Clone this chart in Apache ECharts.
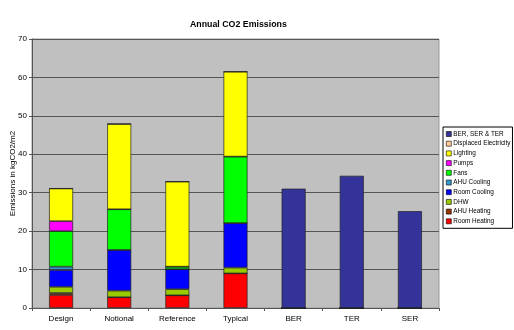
<!DOCTYPE html>
<html><head><meta charset="utf-8">
<script src="https://cdn.jsdelivr.net/npm/echarts@6/dist/echarts.min.js"></script>
<style>html,body{margin:0;padding:0;background:#fff}#c{width:514px;height:330px}</style>
</head><body><div id="c"></div>
<script>
const categories = ['Design','Notional','Reference','Typical','BER','TER','SER'];
const roomHeating   = [3.4, 2.8, 3.3, 9.0, 0, 0, 0];
const ahuHeating    = [0.5, 0, 0, 0, 0, 0, 0];
const dhw           = [1.6, 1.7, 1.6, 1.5, 0, 0, 0];
const roomCooling   = [4.4, 10.6, 5.2, 11.6, 0, 0, 0];
const ahuCooling    = [0.85, 0, 0, 0, 0, 0, 0];
const fans          = [9.25, 10.6, 0.65, 17.3, 0, 0, 0];
const pumps         = [2.6, 0, 0, 0, 0, 0, 0];
const lighting      = [8.5, 22.2, 22.15, 22.1, 0, 0, 0];
const displacedElec = [0, 0, 0, 0, 0, 0, 0];
const berSerTer     = [null, null, null, null, 31.05, 34.4, 25.2];
const yTicks = [0,10,20,30,40,50,60,70];

const seriesDefs = [
  ['Room Heating', roomHeating, '#FF0000'],
  ['AHU Heating', ahuHeating, '#993300'],
  ['DHW', dhw, '#99CC00'],
  ['Room Cooling', roomCooling, '#0000FF'],
  ['AHU Cooling', ahuCooling, '#3399CC'],
  ['Fans', fans, '#00FF00'],
  ['Pumps', pumps, '#FF00FF'],
  ['Lighting', lighting, '#FFFF00'],
  ['Displaced Electricity', displacedElec, '#FFCC99'],
  ['BER, SER & TER', berSerTer, '#333399']
];
const font = 'Liberation Sans, Arial, sans-serif';
const chart = echarts.init(document.getElementById('c'), null, {renderer:'canvas'});
chart.setOption({
  animation: false,
  backgroundColor: '#fff',
  title: {text: 'Annual CO2 Emissions', left: 185, top: 15,
    textStyle: {fontSize: 8.8, fontWeight: 'bold', color: '#000', fontFamily: font}},
  legend: {
    data: seriesDefs.map(s => s[0]).reverse(),
    orient: 'vertical', left: 443, top: 127,
    itemWidth: 5, itemHeight: 5, itemGap: 1.7,
    icon: 'rect',
    padding: [3, 2, 3, 3],
    backgroundColor: '#fff', borderColor: '#000', borderWidth: 1,
    textStyle: {fontSize: 6.4, lineHeight: 8, color: '#000', fontFamily: font, padding: [0,0,0,-3]},
    itemStyle: {borderColor: '#000', borderWidth: 0.6}
  },
  grid: {left: 32, top: 39, right: 75, bottom: 22, show: true, outerBoundsMode: 'none',
    backgroundColor: '#C0C0C0', borderColor: '#999', borderWidth: 1},
  xAxis: {
    type: 'category', data: categories,
    axisLine: {lineStyle: {color: '#555'}},
    axisTick: {show: true, length: 3, lineStyle: {color: '#555'}},
    axisLabel: {fontSize: 8, color: '#000', margin: 7, fontFamily: font}
  },
  yAxis: {
    type: 'value', min: 0, max: 70, interval: 10,
    name: 'Emissions in kgCO2/m2', nameLocation: 'middle', nameGap: 15, nameRotate: 90,
    nameMoveOverlap: false,
    nameTextStyle: {fontSize: 8, color: '#000', fontFamily: font},
    axisLine: {show: true, lineStyle: {color: '#555'}},
    axisTick: {show: true, length: 3, lineStyle: {color: '#555'}},
    axisLabel: {fontSize: 8, color: '#000', margin: 5, fontFamily: font,
      formatter: v => yTicks.includes(v) ? String(v) : ''},
    splitLine: {lineStyle: {color: '#555', width: 1}}
  },
  series: seriesDefs.map(s => ({
    name: s[0], type: 'bar', stack: 'total', data: s[1], barWidth: 24,
    itemStyle: {color: s[2], borderColor: '#222', borderWidth: 0.7}
  }))
});
</script></body></html>
